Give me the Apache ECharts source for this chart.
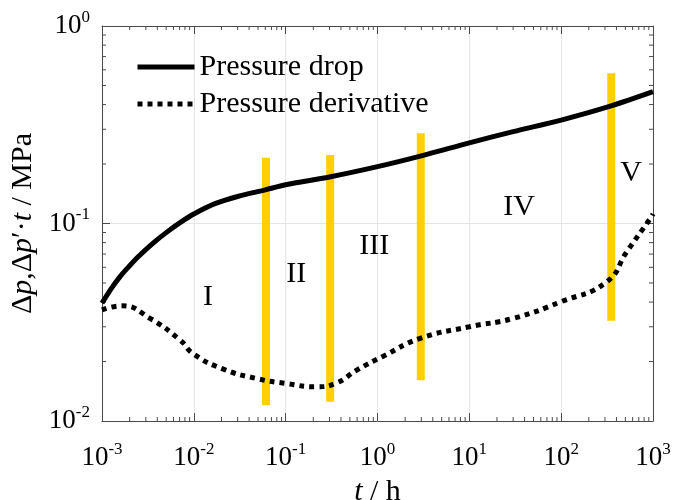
<!DOCTYPE html>
<html>
<head>
<meta charset="utf-8">
<script src="https://cdn.jsdelivr.net/npm/echarts@6/dist/echarts.min.js"></script>
<style>html,body{margin:0;padding:0;background:#fff}#c{width:673px;height:500px}</style>
</head>
<body>
<div id="c"></div>
<script>
// Pressure drop (solid)
const tDrop = [0.001, 0.00126, 0.00158, 0.002, 0.00251, 0.00355, 0.005, 0.00708, 0.01, 0.017, 0.03, 0.06, 0.1, 0.3, 1, 3, 10, 30, 100, 350, 1000];
const pDrop = [0.0395, 0.0468, 0.054, 0.0611, 0.0682, 0.0791, 0.0899, 0.101, 0.1117, 0.126, 0.137, 0.148, 0.157, 0.172, 0.194, 0.22, 0.256, 0.292, 0.334, 0.394, 0.465];
// Pressure derivative (dotted)
const tDer = [0.001, 0.00165, 0.00333, 0.00708, 0.01, 0.021, 0.0484, 0.1, 0.218, 0.36, 0.594, 1.16, 2.91, 10, 30.2, 100, 314, 519, 933, 1000];
const pDer = [0.0365, 0.0383, 0.0331, 0.0257, 0.0218, 0.0183, 0.0164, 0.0155, 0.0149, 0.0156, 0.0181, 0.0213, 0.0262, 0.030, 0.0331, 0.0402, 0.0507, 0.072, 0.106, 0.112];
// Yellow flow-regime separators
const tBars = [0.061, 0.305, 2.96, 351];
const barLow = [0.012, 0.0125, 0.0161, 0.0322];
const barHigh = [0.215, 0.222, 0.286, 0.576];
// Regime labels
const regionNames = ['I', 'II', 'III', 'IV', 'V'];
const regionT = [0.0143, 0.13, 0.92, 34.8, 579];
const regionP = [0.0425, 0.0555, 0.077, 0.121, 0.18];
const seriesNames = ['Pressure drop', 'Pressure derivative'];
// Axis decades and minor tick multipliers
const xDecades = [0.001, 0.01, 0.1, 1, 10, 100];
const yDecades = [0.01, 0.1];
const minorMult = [2, 3, 4, 5, 6, 7, 8, 9];

const FONT = 'Liberation Serif';
const AX = '#4a4a4a';
const chart = echarts.init(document.getElementById('c'));

function pow10Label(v) {
  const e = Math.round(Math.log10(v));
  return '{b|10}{s|' + e + '}';
}
const tickRich = {
  b: { fontFamily: FONT, fontSize: 27, color: '#000', lineHeight: 34 },
  s: { fontFamily: FONT, fontSize: 17, color: '#000', lineHeight: 17, verticalAlign: 'top' }
};

function logAxisBase(extra) {
  return Object.assign({
    type: 'log', logBase: 10,
    axisLine: { show: true, lineStyle: { color: AX, width: 1 } },
    axisTick: { show: true, inside: true, length: 8, lineStyle: { color: AX } },
    minorTick: { show: false },
    minorSplitLine: { show: false }
  }, extra);
}

const barSeries = tBars.map((t, i) => ({
  type: 'line', xAxisIndex: 0, yAxisIndex: 0,
  data: [[t, barLow[i]], [t, barHigh[i]]],
  symbol: 'none', silent: true, z: 2,
  lineStyle: { color: '#FFD000', width: 8, cap: 'butt' }
}));

const xMinor = [];
xDecades.forEach(d => minorMult.forEach(m => xMinor.push([m * d, 0.1])));
const yMinor = [];
yDecades.forEach(d => minorMult.forEach(m => yMinor.push([1, m * d])));
const TL = 4;
const tickStyle = { stroke: AX, lineWidth: 1 };

const option = {
  animation: false,
  backgroundColor: '#fff',
  grid: { left: 102, right: 20, top: 26, bottom: 79, containLabel: false, outerBoundsMode: 'none' },
  legend: {
    data: seriesNames,
    orient: 'vertical', left: 135, top: 52, padding: 0,
    itemWidth: 57, itemHeight: 14, itemGap: 7,
    itemStyle: { opacity: 0 },
    lineStyle: { width: 5, cap: 'butt' },
    textStyle: { fontFamily: FONT, fontSize: 30, color: '#000', lineHeight: 30 }
  },
  xAxis: [
    logAxisBase({
      min: 0.001, max: 1000, position: 'bottom',
      splitLine: { show: true, lineStyle: { color: '#e4e4e4', width: 1 } },
      axisLabel: { formatter: pow10Label, rich: tickRich, margin: 20 },
      name: '{i|t}{a| / h}', nameLocation: 'middle', nameGap: 56,
      nameTextStyle: { rich: {
        i: { fontFamily: FONT, fontSize: 30, fontStyle: 'italic', color: '#000' },
        a: { fontFamily: FONT, fontSize: 30, color: '#000' } } }
    }),
    logAxisBase({
      min: 0.001, max: 1000, position: 'top',
      splitLine: { show: false }, axisLabel: { show: false }
    })
  ],
  yAxis: [
    logAxisBase({
      min: 0.01, max: 1, position: 'left',
      splitLine: { show: true, lineStyle: { color: '#e4e4e4', width: 1 } },
      axisLabel: { formatter: pow10Label, rich: tickRich, margin: 12 },
      name: '{a|Δ}{i|p}{a|,Δ}{i|p}{a|′·}{i|t}{a| / MPa}', nameLocation: 'middle', nameGap: 62,
      nameTextStyle: { rich: {
        i: { fontFamily: FONT, fontSize: 30, fontStyle: 'italic', color: '#000' },
        a: { fontFamily: FONT, fontSize: 30, color: '#000' } } }
    }),
    logAxisBase({
      min: 0.01, max: 1, position: 'right',
      splitLine: { show: false }, axisLabel: { show: false }
    })
  ],
  series: [
    {
      type: 'custom', silent: true, z: 1, data: xMinor, clip: false,
      renderItem: (params, api) => {
        const cs = params.coordSys;
        const x = api.coord([api.value(0), api.value(1)])[0];
        const yb = cs.y + cs.height, yt = cs.y;
        return { type: 'group', children: [
          { type: 'line', shape: { x1: x, y1: yb, x2: x, y2: yb - TL }, style: tickStyle },
          { type: 'line', shape: { x1: x, y1: yt, x2: x, y2: yt + TL }, style: tickStyle }
        ] };
      }
    },
    {
      type: 'custom', silent: true, z: 1, data: yMinor, clip: false,
      renderItem: (params, api) => {
        const cs = params.coordSys;
        const y = api.coord([api.value(0), api.value(1)])[1];
        const xl = cs.x, xr = cs.x + cs.width;
        return { type: 'group', children: [
          { type: 'line', shape: { x1: xl, y1: y, x2: xl + TL, y2: y }, style: tickStyle },
          { type: 'line', shape: { x1: xr, y1: y, x2: xr - TL, y2: y }, style: tickStyle }
        ] };
      }
    },
    ...barSeries,
    {
      name: seriesNames[0], type: 'line', z: 5,
      data: tDrop.map((t, i) => [t, pDrop[i]]),
      symbol: 'none', smooth: 0.3,
      lineStyle: { color: '#000', width: 5 }, itemStyle: { color: '#000' }
    },
    {
      name: seriesNames[1], type: 'line', z: 5,
      data: tDer.map((t, i) => [t, pDer[i]]),
      symbol: 'none', smooth: 0.5,
      lineStyle: { color: '#000', width: 5, type: [5, 5], cap: 'butt' }, itemStyle: { color: '#000' }
    },
    {
      type: 'scatter', z: 6, silent: true,
      data: regionT.map((t, i) => ({ name: regionNames[i], value: [t, regionP[i]] })),
      symbolSize: 1, itemStyle: { color: 'rgba(0,0,0,0)', opacity: 1 },
      label: { show: true, position: 'inside', formatter: p => p.name,
        fontFamily: FONT, fontSize: 30, color: '#000', opacity: 1 }
    }
  ]
};
chart.setOption(option);
</script>
</body>
</html>
